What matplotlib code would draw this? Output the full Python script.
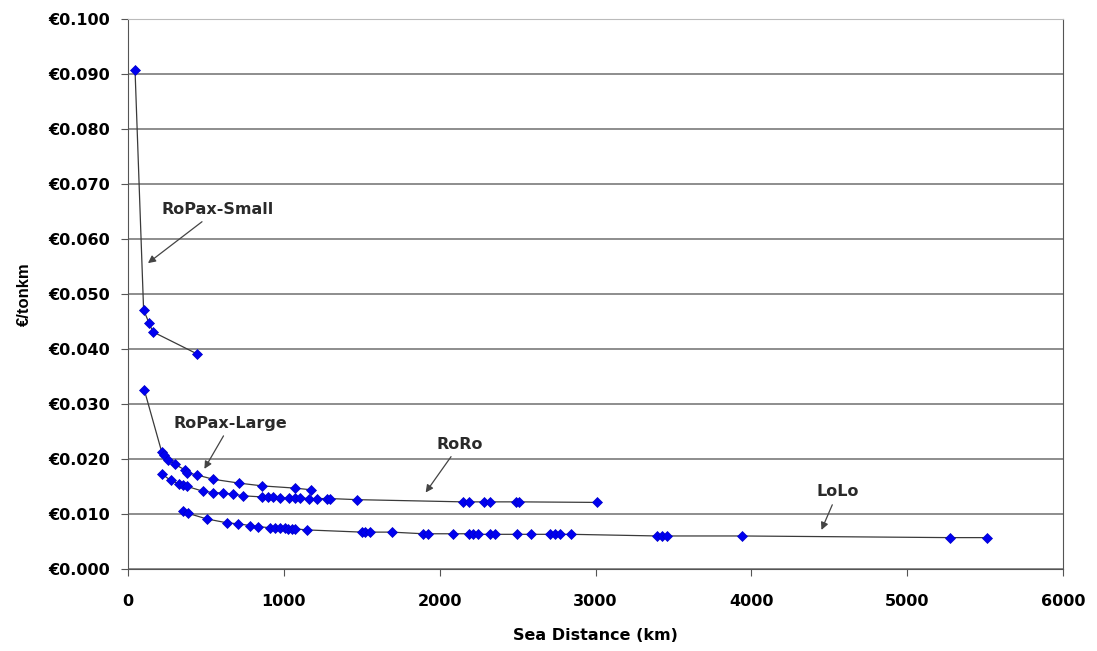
import numpy as np
import matplotlib.pyplot as plt

# sea distance (km) and cost (EUR per tonkm)
ropax_small_km = [45, 100, 135, 160, 443]
ropax_small_cost = [0.0907, 0.0471, 0.0447, 0.0431, 0.0391]

ropax_large_km = [105, 216, 233, 259, 302, 366, 381, 441, 548, 715, 862, 1072, 1172]
ropax_large_cost = [0.0325, 0.0213, 0.0207, 0.0199, 0.0190, 0.0180, 0.0175, 0.0171,
                    0.0163, 0.0156, 0.0151, 0.0147, 0.0144]

roro_km = [216, 274, 327, 355, 381, 484, 548, 612, 672, 740, 858, 900, 933, 976,
           1035, 1072, 1104, 1162, 1215, 1275, 1297, 1472, 2152, 2185, 2287, 2324,
           2490, 2512, 3008]
roro_cost = [0.0173, 0.0161, 0.0155, 0.0153, 0.0150, 0.0141, 0.0139, 0.0138, 0.0136,
             0.0133, 0.0131, 0.0131, 0.0130, 0.0129, 0.0129, 0.0129, 0.0129, 0.0128,
             0.0128, 0.0128, 0.0128, 0.0126, 0.0122, 0.0122, 0.0122, 0.0122, 0.0122,
             0.0122, 0.0121]

lolo_km = [351, 387, 505, 633, 708, 783, 836, 911, 944, 976, 1008, 1029, 1051, 1072,
           1147, 1500, 1521, 1553, 1692, 1896, 1928, 2088, 2190, 2216, 2244, 2324,
           2356, 2495, 2587, 2709, 2737, 2769, 2844, 3397, 3429, 3457, 3938, 5272, 5510]
lolo_cost = [0.0106, 0.0101, 0.0091, 0.0084, 0.0082, 0.0079, 0.0077, 0.0075, 0.0075,
             0.0074, 0.0074, 0.0073, 0.0073, 0.0073, 0.0071, 0.0067, 0.0067, 0.0067,
             0.0067, 0.0064, 0.0064, 0.0064, 0.0064, 0.0064, 0.0063, 0.0063, 0.0063,
             0.0063, 0.0063, 0.0063, 0.0063, 0.0063, 0.0063, 0.0060, 0.0060, 0.0060,
             0.0060, 0.0057, 0.0057]

series = [(ropax_small_km, ropax_small_cost), (ropax_large_km, ropax_large_cost),
          (roro_km, roro_cost), (lolo_km, lolo_cost)]

# the original is stretched sideways, the wider DejaVu face fits it better
plt.rcParams['font.family'] = ['DejaVu Sans']
plt.rcParams['font.weight'] = 'bold'

fig = plt.figure(figsize=(10.97, 6.51), dpi=100)
ax = fig.add_axes([0.1167, 0.126, 0.8523, 0.845])

for km, cost in series:
    ax.plot(km, cost, '-', color='#3a3a3a', lw=0.9, zorder=2)
    ax.plot(km, cost, 'D', color='#0000f0', ms=5.5, mec='#0000c8', mew=0.5, zorder=3)

ax.set_xlim(0, 6000)
ax.set_ylim(0, 0.1)
ax.set_xticks(np.arange(0, 6001, 1000))
ax.set_yticks(np.arange(0, 0.1001, 0.01))
ax.set_yticklabels(['€%.3f' % v for v in np.arange(0, 0.1001, 0.01)])
ax.grid(axis='y', color='#7a7a7a', lw=1.2)
ax.set_axisbelow(True)
for side in ['left', 'right', 'bottom']:
    ax.spines[side].set_color('#555555')
ax.spines['top'].set_color('#bbbbbb')
ax.tick_params(labelsize=11.5, length=5, color='#555555', pad=8)
ax.tick_params(axis='x', pad=13)

ax.set_xlabel('Sea Distance (km)', fontsize=11.5, fontweight='bold', labelpad=14)
ax.set_ylabel('€/tonkm', fontsize=12, fontweight='bold', labelpad=12,
              family=['Liberation Sans', 'DejaVu Sans'])

arrow = dict(arrowstyle='-|>', color='#444444', lw=0.9, mutation_scale=11, shrinkB=0)
ax.annotate('RoPax-Small', xy=(128, 0.0556), xytext=(575, 0.0653), fontsize=11.5,
            fontweight='bold', color='#2a2a2a', ha='center', va='center', arrowprops=arrow)
ax.annotate('RoPax-Large', xy=(490, 0.0182), xytext=(660, 0.0265), fontsize=11.5,
            fontweight='bold', color='#2a2a2a', ha='center', va='center', arrowprops=arrow)
ax.annotate('RoRo', xy=(1910, 0.0139), xytext=(2130, 0.0227), fontsize=11.5,
            fontweight='bold', color='#2a2a2a', ha='center', va='center', arrowprops=arrow)
ax.annotate('LoLo', xy=(4450, 0.0071), xytext=(4555, 0.0140), fontsize=11.5,
            fontweight='bold', color='#2a2a2a', ha='center', va='center', arrowprops=arrow)

fig.savefig('out.png', dpi=100)
